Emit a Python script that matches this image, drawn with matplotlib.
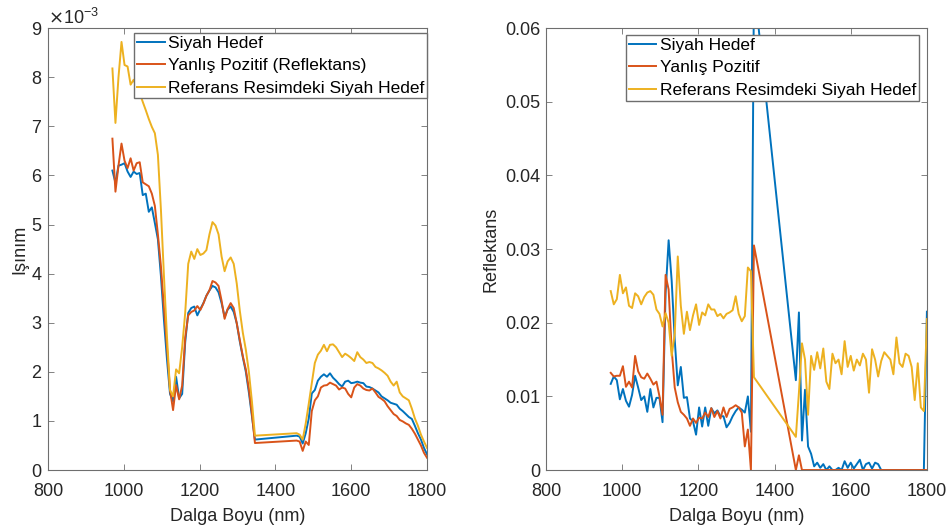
import numpy as np
import matplotlib
matplotlib.use('Agg')
import matplotlib.pyplot as plt
from matplotlib.ticker import FuncFormatter

plt.rcParams['font.family'] = ['Liberation Sans', 'DejaVu Sans']

# Wavelengths (nm); the water band 1346-1456 nm is missing
wavelength = [970, 978, 986, 994, 1002, 1010, 1018, 1026, 1034, 1042, 1050, 1058,
              1066, 1074, 1082, 1090, 1098, 1106, 1114, 1122, 1130, 1138, 1146, 1154,
              1162, 1170, 1178, 1186, 1194, 1202, 1210, 1218, 1226, 1234, 1242, 1250,
              1258, 1266, 1274, 1282, 1290, 1298, 1306, 1314, 1322, 1330, 1338, 1346,
              1456, 1464, 1472, 1480, 1488, 1496, 1504, 1512, 1520, 1528, 1536, 1544,
              1552, 1560, 1568, 1576, 1584, 1592, 1600, 1608, 1616, 1624, 1632, 1640,
              1648, 1656, 1664, 1672, 1680, 1688, 1696, 1704, 1712, 1720, 1728, 1736,
              1744, 1752, 1760, 1768, 1776, 1784, 1792, 1800]

# Left panel: radiance (x 1e-3)
isinim_siyah = [6.10, 5.85, 6.20, 6.22, 6.25, 6.08, 5.97, 6.08, 6.03, 6.05, 5.60, 5.63,
                5.26, 5.35, 5.03, 4.70, 3.95, 3.05, 2.25, 1.55, 1.40, 1.90, 1.46, 1.55,
                2.60, 3.20, 3.30, 3.33, 3.15, 3.28, 3.40, 3.55, 3.66, 3.75, 3.72, 3.62,
                3.40, 3.12, 3.27, 3.33, 3.22, 2.99, 2.62, 2.30, 2.00, 1.58, 1.10, 0.62,
                0.70, 0.68, 0.54, 0.75, 1.05, 1.56, 1.63, 1.82, 1.90, 1.95, 1.90, 1.97,
                1.88, 1.82, 1.75, 1.70, 1.80, 1.82, 1.77, 1.78, 1.80, 1.78, 1.77, 1.70,
                1.69, 1.66, 1.62, 1.58, 1.50, 1.46, 1.42, 1.37, 1.35, 1.33, 1.25, 1.20,
                1.14, 1.08, 1.04, 0.90, 0.75, 0.62, 0.45, 0.32]
isinim_yanlis = [6.75, 5.67, 6.20, 6.65, 6.30, 6.15, 6.35, 6.10, 6.25, 6.27, 5.86, 5.82,
                 5.78, 5.63, 5.38, 4.80, 4.15, 3.30, 2.50, 1.63, 1.22, 1.73, 1.44, 1.72,
                 2.70, 3.15, 3.22, 3.25, 3.34, 3.26, 3.39, 3.55, 3.66, 3.85, 3.82, 3.75,
                 3.45, 3.08, 3.28, 3.40, 3.30, 2.99, 2.65, 2.32, 2.05, 1.65, 1.15, 0.55,
                 0.60, 0.58, 0.39, 0.58, 0.51, 1.20, 1.42, 1.50, 1.68, 1.72, 1.73, 1.78,
                 1.75, 1.72, 1.64, 1.68, 1.66, 1.55, 1.48, 1.68, 1.75, 1.72, 1.66, 1.63,
                 1.62, 1.66, 1.58, 1.49, 1.45, 1.40, 1.30, 1.22, 1.14, 1.10, 1.02, 0.99,
                 0.95, 0.92, 0.84, 0.74, 0.62, 0.50, 0.35, 0.25]
isinim_referans = [8.18, 7.07, 8.00, 8.72, 8.25, 8.22, 7.85, 7.95, 7.80, 7.68, 7.50, 7.33,
                   7.15, 6.99, 6.86, 6.42, 5.30, 3.95, 2.70, 1.63, 1.50, 2.05, 1.97, 2.50,
                   3.20, 4.20, 4.45, 4.30, 4.50, 4.38, 4.41, 4.48, 4.80, 5.05, 4.98, 4.80,
                   4.35, 4.05, 4.25, 4.33, 4.20, 3.80, 3.25, 2.80, 2.45, 2.00, 1.40, 0.70,
                   0.75, 0.72, 0.62, 0.95, 1.35, 1.77, 2.18, 2.35, 2.43, 2.55, 2.42, 2.55,
                   2.56, 2.50, 2.40, 2.30, 2.37, 2.33, 2.28, 2.22, 2.40, 2.30, 2.25, 2.18,
                   2.20, 2.18, 2.10, 2.07, 2.03, 1.98, 1.92, 1.80, 1.72, 1.80, 1.58, 1.50,
                   1.46, 1.42, 1.25, 1.05, 0.90, 0.72, 0.58, 0.45]

# Right panel: reflectance
refl_siyah = [0.0117, 0.0127, 0.0122, 0.0096, 0.0110, 0.0094, 0.0086, 0.0102, 0.0128, 0.0112, 0.0095, 0.0100,
              0.0079, 0.0110, 0.0085, 0.0098, 0.0098, 0.0065, 0.0240, 0.0312, 0.0257, 0.0177, 0.0115, 0.0140,
              0.0098, 0.0099, 0.0070, 0.0066, 0.0048, 0.0085, 0.0059, 0.0085, 0.0060, 0.0084, 0.0077, 0.0081,
              0.0073, 0.0073, 0.0058, 0.0064, 0.0073, 0.0080, 0.0085, 0.0082, 0.0078, 0.0100, 0.0052, 0.0660,
              0.0122, 0.0214, 0.0040, 0.0109, 0.0032, 0.0022, 0.0005, 0.0010, 0.0003, 0.0008, 0.0000, 0.0005,
              0.0000, 0.0000, 0.0003, 0.0000, 0.0012, 0.0003, 0.0010, 0.0002, 0.0008, 0.0014, 0.0000, 0.0008,
              0.0010, 0.0002, 0.0010, 0.0008, 0.0000, 0.0000, 0.0000, 0.0000, 0.0000, 0.0000, 0.0000, 0.0000,
              0.0000, 0.0000, 0.0000, 0.0000, 0.0000, 0.0000, 0.0000, 0.0215]
refl_yanlis = [0.0132, 0.0127, 0.0128, 0.0128, 0.0141, 0.0113, 0.0120, 0.0112, 0.0155, 0.0134, 0.0126, 0.0124,
               0.0131, 0.0124, 0.0116, 0.0120, 0.0100, 0.0075, 0.0265, 0.0245, 0.0164, 0.0112, 0.0092, 0.0079,
               0.0075, 0.0070, 0.0060, 0.0070, 0.0064, 0.0071, 0.0070, 0.0078, 0.0072, 0.0084, 0.0072, 0.0080,
               0.0070, 0.0085, 0.0072, 0.0083, 0.0085, 0.0088, 0.0085, 0.0078, 0.0032, 0.0055, 0.0000, 0.0305,
               0.0000, 0.0020, 0.0000, 0.0000, 0.0000, 0.0000, 0.0000, 0.0000, 0.0000, 0.0000, 0.0000, 0.0000,
               0.0000, 0.0000, 0.0000, 0.0000, 0.0000, 0.0000, 0.0000, 0.0000, 0.0000, 0.0000, 0.0000, 0.0000,
               0.0000, 0.0000, 0.0000, 0.0000, 0.0000, 0.0000, 0.0000, 0.0000, 0.0000, 0.0000, 0.0000, 0.0000,
               0.0000, 0.0000, 0.0000, 0.0000, 0.0000, 0.0000, 0.0000, 0.0000]
refl_referans = [0.0243, 0.0225, 0.0232, 0.0265, 0.0240, 0.0248, 0.0223, 0.0220, 0.0240, 0.0236, 0.0225, 0.0235,
                 0.0241, 0.0243, 0.0238, 0.0218, 0.0212, 0.0195, 0.0213, 0.0200, 0.0155, 0.0185, 0.0290, 0.0223,
                 0.0185, 0.0215, 0.0190, 0.0210, 0.0225, 0.0197, 0.0214, 0.0210, 0.0225, 0.0218, 0.0218, 0.0209,
                 0.0212, 0.0206, 0.0212, 0.0214, 0.0217, 0.0236, 0.0212, 0.0202, 0.0209, 0.0275, 0.0270, 0.0126,
                 0.0045, 0.0105, 0.0172, 0.0150, 0.0075, 0.0155, 0.0136, 0.0160, 0.0138, 0.0165, 0.0120, 0.0110,
                 0.0158, 0.0145, 0.0150, 0.0130, 0.0175, 0.0140, 0.0155, 0.0135, 0.0150, 0.0142, 0.0158, 0.0150,
                 0.0105, 0.0164, 0.0150, 0.0127, 0.0148, 0.0160, 0.0155, 0.0150, 0.0130, 0.0180, 0.0145, 0.0140,
                 0.0158, 0.0155, 0.0140, 0.0095, 0.0145, 0.0085, 0.0080, 0.0205]

# MATLAB default colours
c_blue = '#0072BD'
c_red = '#D95319'
c_yellow = '#EDB120'
text_col = '#262626'
box_col = '#6e6e6e'
fs = 13

fig = plt.figure(figsize=(9.5, 5.32), dpi=100)
ax1 = fig.add_axes([0.0505, 0.1165, 0.399, 0.8305])
ax2 = fig.add_axes([0.5747, 0.1165, 0.401, 0.8305])

wl = np.array(wavelength)
leg_kw = dict(loc='upper right', borderaxespad=0, fontsize=fs - 0.5, handlelength=1.6,
              handletextpad=0.2, labelspacing=0.42, borderpad=0.15, fancybox=False,
              framealpha=1, edgecolor=box_col)

# Left: radiance
ax1.plot(wl, np.array(isinim_siyah) * 1e-3, color=c_blue, lw=1.4, label='Siyah Hedef')
ax1.plot(wl, np.array(isinim_yanlis) * 1e-3, color=c_red, lw=1.4, label='Yanlış Pozitif (Reflektans)')
ax1.plot(wl, np.array(isinim_referans) * 1e-3, color=c_yellow, lw=1.4, label='Referans Resimdeki Siyah Hedef')
ax1.set_xlim(800, 1800)
ax1.set_ylim(0, 9e-3)
ax1.set_xticks([800, 1000, 1200, 1400, 1600, 1800])
ax1.set_yticks(np.arange(0, 10) * 1e-3)
ax1.ticklabel_format(style='sci', axis='y', scilimits=(-3, -3), useMathText=True)
ax1.yaxis.get_offset_text().set_fontsize(fs)
ax1.yaxis.get_offset_text().set_color(text_col)
ax1.set_xlabel('Dalga Boyu (nm)', fontsize=fs, color=text_col, labelpad=6)
ax1.set_ylabel('Işınım', fontsize=fs, color=text_col, labelpad=2)
ax1.legend(bbox_to_anchor=(1.0, 0.989), **leg_kw)

# Right: reflectance
ax2.plot(wl, refl_siyah, color=c_blue, lw=1.4, label='Siyah Hedef')
ax2.plot(wl, refl_yanlis, color=c_red, lw=1.4, label='Yanlış Pozitif')
ax2.plot(wl, refl_referans, color=c_yellow, lw=1.4, label='Referans Resimdeki Siyah Hedef')
ax2.set_xlim(800, 1800)
ax2.set_ylim(0, 0.06)
ax2.set_xticks([800, 1000, 1200, 1400, 1600, 1800])
ax2.set_yticks([0, 0.01, 0.02, 0.03, 0.04, 0.05, 0.06])
ax2.yaxis.set_major_formatter(FuncFormatter(lambda v, p: '%g' % round(v, 4)))
ax2.set_xlabel('Dalga Boyu (nm)', fontsize=fs, color=text_col, labelpad=6)
ax2.set_ylabel('Reflektans', fontsize=fs, color=text_col, labelpad=4)
ax2.legend(bbox_to_anchor=(0.979, 0.984), **leg_kw)

for ax in (ax1, ax2):
    ax.tick_params(direction='in', top=True, right=True, length=4, width=0.6,
                   color=box_col, labelcolor=text_col, labelsize=fs, pad=4)
    ax.tick_params(axis='x', pad=9)
    for sp in ax.spines.values():
        sp.set_color(box_col)
        sp.set_linewidth(0.8)

fig.savefig('out.png', dpi=100, facecolor='white')
